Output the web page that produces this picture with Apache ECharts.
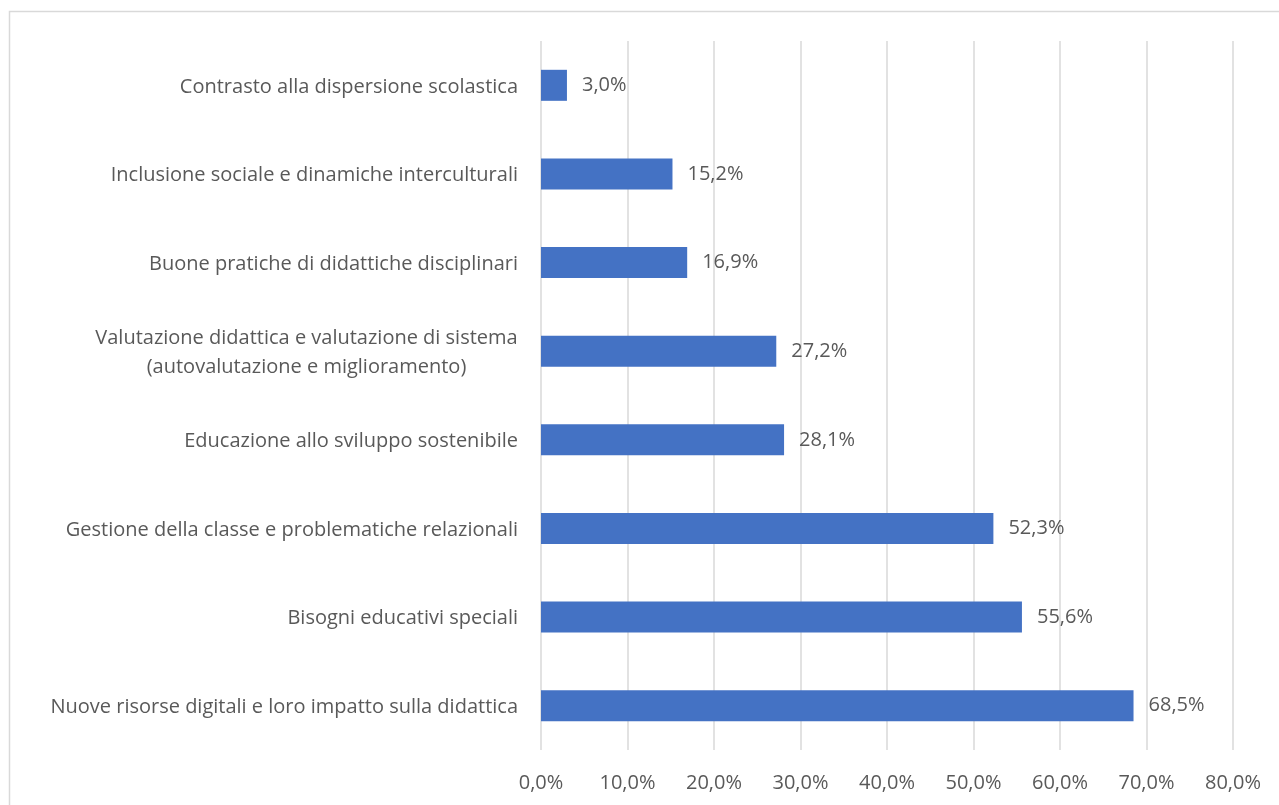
<!DOCTYPE html>
<html>
<head>
<meta charset="utf-8">
<script src="https://cdn.jsdelivr.net/npm/echarts@6/dist/echarts.min.js"></script>
<style>
  html, body { margin: 0; padding: 0; background: #ffffff; }
  #chart { width: 1279px; height: 805px; }
</style>
</head>
<body>
<div id="chart"></div>
<script>
// Categories listed bottom to top (category axis order)
const categories = [
  'Nuove risorse digitali e loro impatto sulla didattica',
  'Bisogni educativi speciali',
  'Gestione della classe e problematiche relazionali',
  'Educazione allo sviluppo sostenibile',
  'Valutazione didattica e valutazione di sistema\n(autovalutazione e miglioramento)',
  'Buone pratiche di didattiche disciplinari',
  'Inclusione sociale e dinamiche interculturali',
  'Contrasto alla dispersione scolastica'
];
// Percentages
const values = [68.5, 55.6, 52.3, 28.1, 27.2, 16.9, 15.2, 3.0];
const axisMin = 0, axisMax = 80, axisStep = 10;

const FONT = '"Open Sans"';
const FONT_SIZE = 20;
const TEXT = '#595959';
const fmt = v => v.toFixed(1).replace('.', ',') + '%';

// Width of the widest line of a multi-line label, so its lines can be centred
function blockWidth(text) {
  const ctx = document.createElement('canvas').getContext('2d');
  ctx.font = FONT_SIZE + 'px ' + FONT;
  return Math.ceil(Math.max.apply(null, text.split('\n').map(s => ctx.measureText(s).width)));
}

function render() {
  const chart = echarts.init(document.getElementById('chart'), null, { renderer: 'canvas' });
  const multi = categories.find(c => c.indexOf('\n') >= 0) || '';
  const mw = blockWidth(multi);
  chart.setOption({
    backgroundColor: '#ffffff',
    animation: false,
    graphic: [{
      type: 'rect',
      shape: { x: 9.5, y: 11.5, width: 1400, height: 1000 },
      style: { fill: 'none', stroke: '#d9d9d9', lineWidth: 1.5 },
      silent: true
    }],
    grid: { left: 541, right: 46, top: 41, bottom: 55, containLabel: false },
    xAxis: {
      type: 'value',
      min: axisMin, max: axisMax, interval: axisStep,
      axisLine: { show: false },
      axisTick: { show: false },
      splitLine: { show: true, lineStyle: { color: '#d9d9d9', width: 1.5 } },
      axisLabel: {
        formatter: fmt,
        color: TEXT, fontFamily: FONT, fontSize: FONT_SIZE, margin: 23
      }
    },
    yAxis: {
      type: 'category',
      data: categories,
      axisLine: { show: false },
      axisTick: { show: false },
      axisLabel: {
        color: TEXT, fontFamily: FONT, fontSize: FONT_SIZE, margin: 23,
        padding: [3, 0, 0, 0],
        formatter: function (v) {
          if (v.indexOf('\n') >= 0) {
            return v.split('\n').map(s => '{c|' + s + '}').join('\n');
          }
          return v;
        },
        rich: {
          c: { width: mw, align: 'center', color: TEXT, fontFamily: FONT, fontSize: FONT_SIZE, lineHeight: 29 }
        }
      }
    },
    series: [{
      type: 'bar',
      data: values,
      barWidth: '35%',
      itemStyle: { color: '#4472c4' },
      label: {
        show: true, position: 'right', distance: 15,
        padding: [3, 0, 0, 0],
        formatter: p => fmt(p.value),
        color: TEXT, fontFamily: FONT, fontSize: FONT_SIZE
      }
    }]
  });
}

if (document.fonts && document.fonts.load) {
  document.fonts.load(FONT_SIZE + 'px ' + FONT).then(render, render);
} else {
  render();
}
</script>
</body>
</html>
